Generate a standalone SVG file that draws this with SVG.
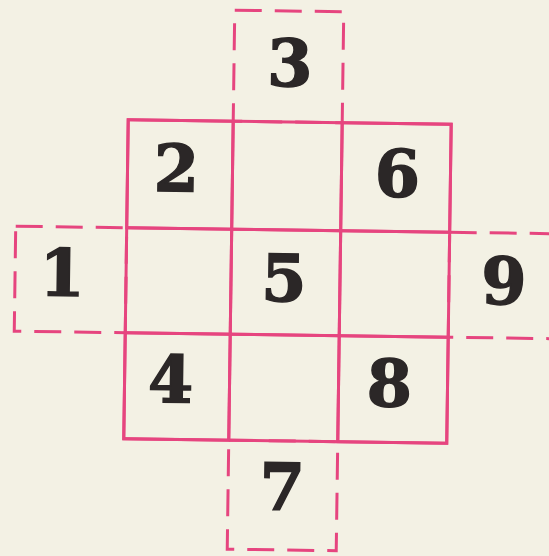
<svg xmlns="http://www.w3.org/2000/svg" width="549" height="556" viewBox="0 0 549 556">
<style>
.solid{fill:none;stroke:#e6457f;stroke-width:3}
.dash{fill:none;stroke:#e6457f;stroke-width:3;stroke-dasharray:27 13}
.num{font-family:"DejaVu Serif","Liberation Serif",serif;font-weight:bold;font-size:65px;fill:#2b2727;stroke:#2b2727;stroke-width:1.5;text-anchor:middle}
</style>
<rect width="549" height="556" fill="#f3f1e4"/>
<g transform="rotate(0.8 288 280)">
<g id="cell3"><rect class="dash" x="231" y="11" width="109" height="111"/><text class="num" x="287" y="86">3</text></g>
<g id="cell1"><rect class="dash" x="15" y="230" width="111" height="105"/><text class="num" x="62" y="299">1</text></g>
<g id="cell9"><rect class="dash" x="449" y="230" width="130" height="105"/><text class="num" x="504" y="301">9</text></g>
<g id="cell7"><rect class="dash" x="231" y="441" width="109" height="109"/><text class="num" x="285" y="510">7</text></g>
<g id="cell2"><rect class="solid" x="126" y="122" width="105" height="108"/><text class="num" x="175" y="193">2</text></g>
<g id="cell6"><rect class="solid" x="340" y="122" width="109" height="108"/><text class="num" x="396" y="195">6</text></g>
<g id="cell5"><rect class="solid" x="231" y="230" width="109" height="105"/><text class="num" x="284" y="301">5</text></g>
<g id="cell4"><rect class="solid" x="126" y="335" width="105" height="106"/><text class="num" x="172" y="404">4</text></g>
<g id="cell8"><rect class="solid" x="340" y="335" width="109" height="106"/><text class="num" x="391" y="405">8</text></g>
<g id="grid"><rect class="solid" x="126" y="122" width="323" height="319"/><line class="solid" x1="231" y1="122" x2="231" y2="441"/><line class="solid" x1="340" y1="122" x2="340" y2="441"/><line class="solid" x1="126" y1="230" x2="449" y2="230"/><line class="solid" x1="126" y1="335" x2="449" y2="335"/></g>
</g>
</svg>
